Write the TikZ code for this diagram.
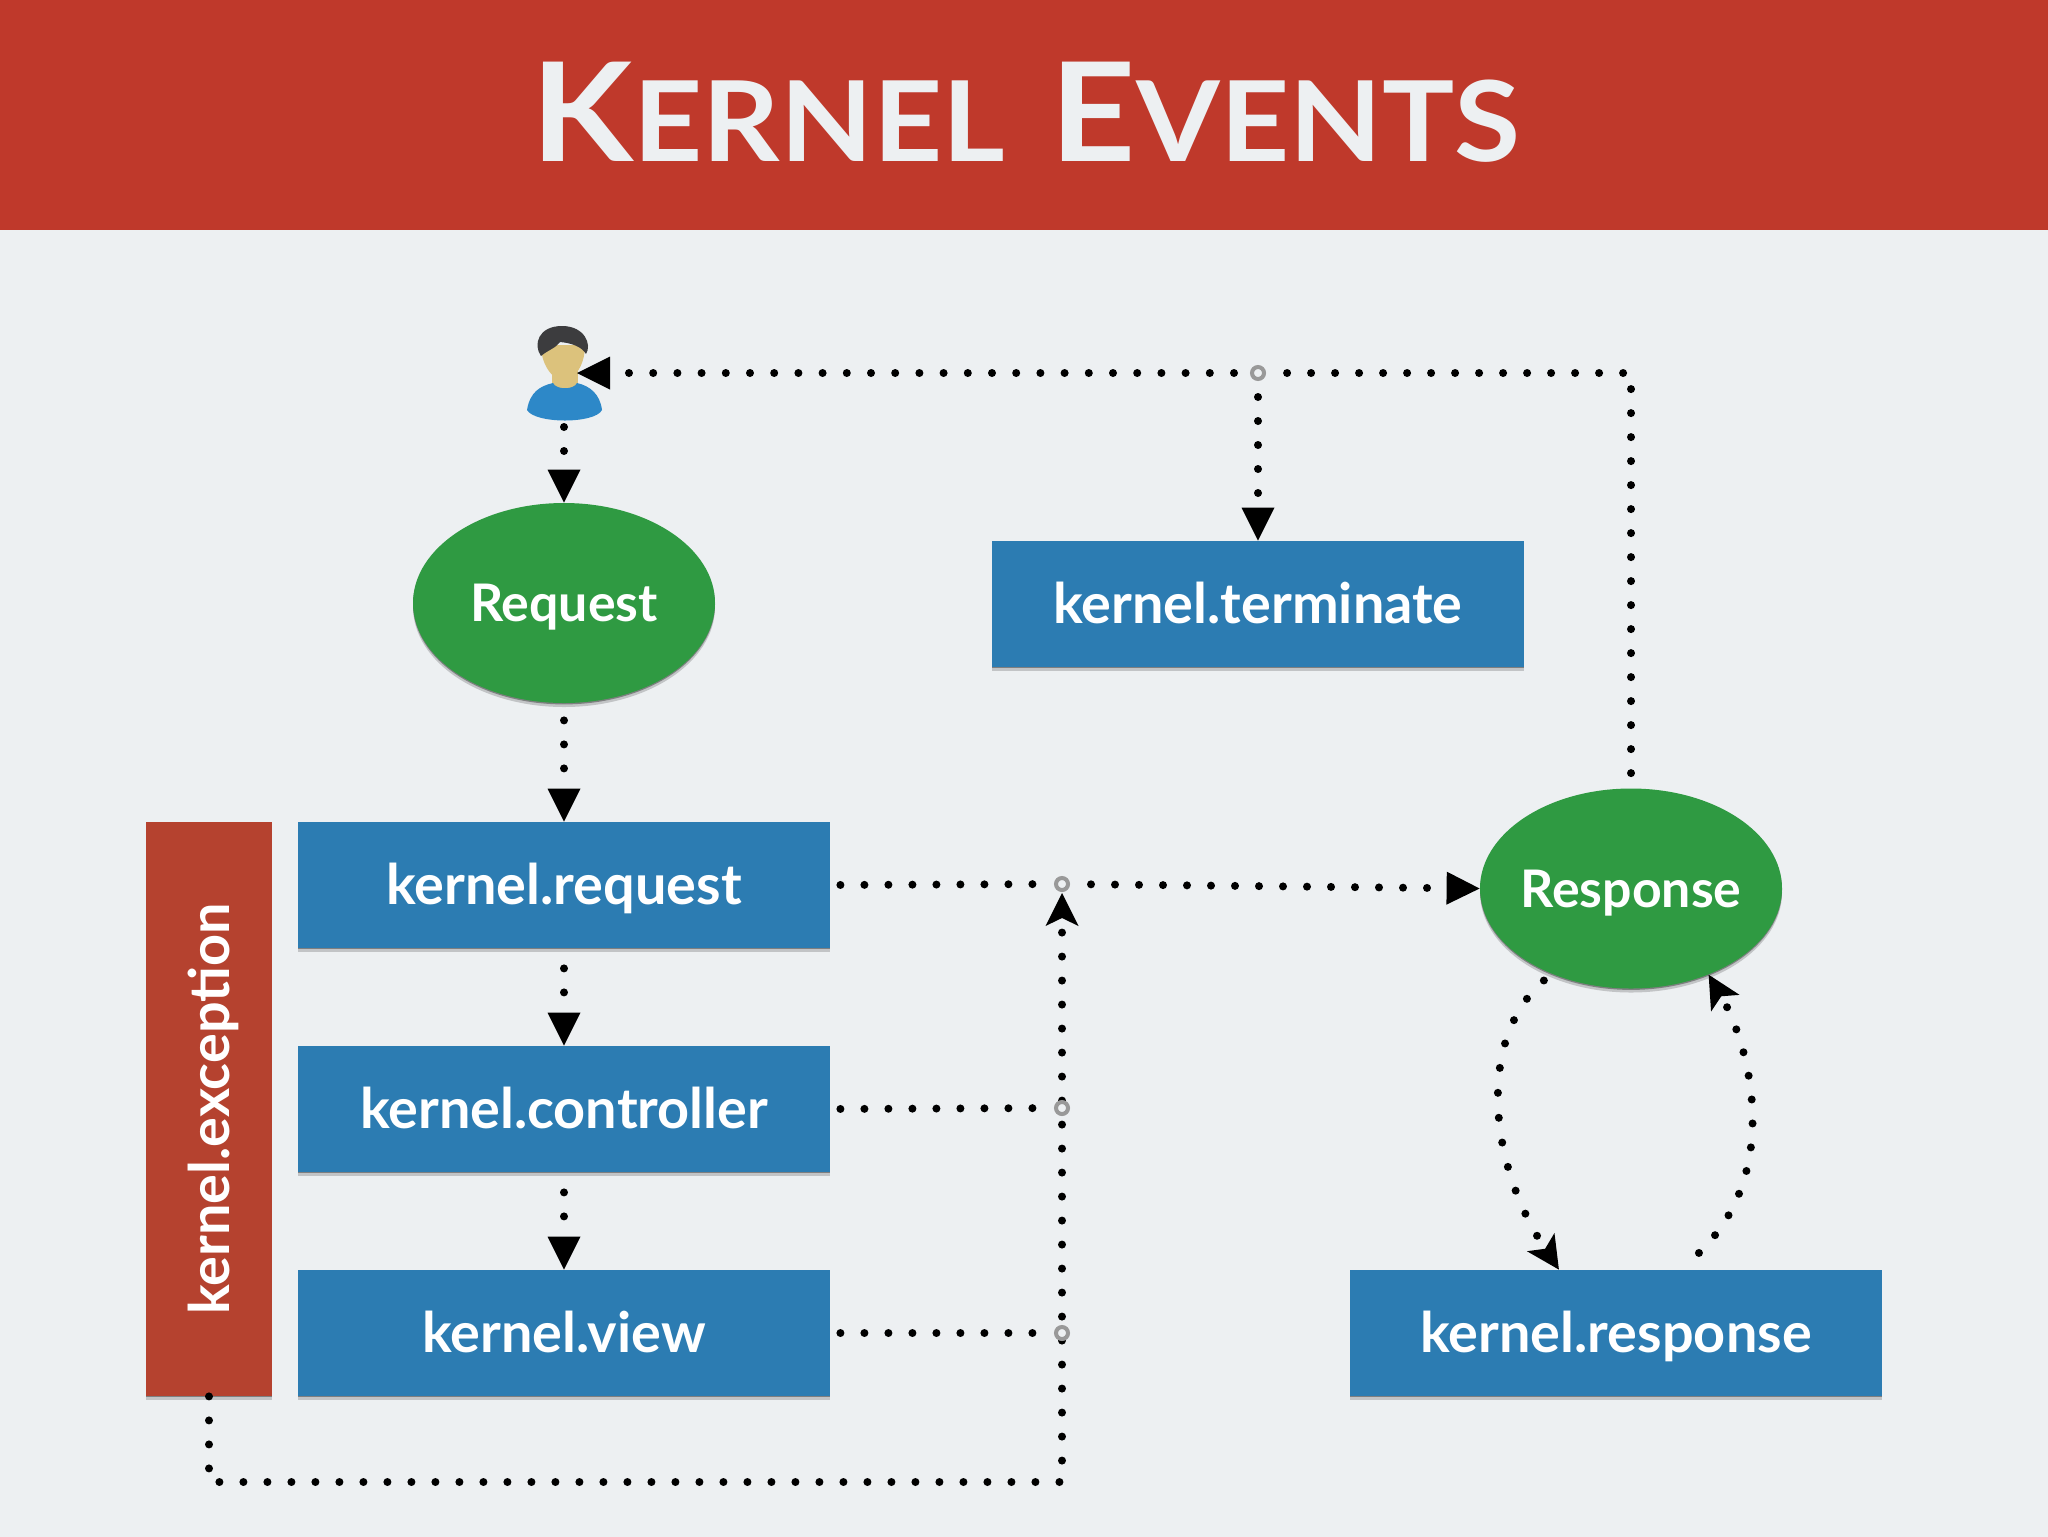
\documentclass[tikz,border=0pt]{standalone}
\usepackage{fontspec}
\setmainfont{Lato}
\newfontfamily\titlefont[FakeStretch=1.08]{Lato}
\usetikzlibrary{arrows.meta,shapes.geometric,shadows}
\pgfdeclarelayer{top}
\pgfsetlayers{main,top}
\definecolor{pageBg}{HTML}{EDF0F2}
\definecolor{headRed}{HTML}{BF392B}
\definecolor{boxBlue}{HTML}{2C7CB2}
\definecolor{ovalGreen}{HTML}{2F9A42}
\definecolor{sideRed}{HTML}{B5422F}
\definecolor{ringGray}{HTML}{999999}
\definecolor{skinTone}{HTML}{DCC27C}
\definecolor{hairGray}{HTML}{3C3C3E}
\definecolor{shirtBlue}{HTML}{2D88C8}
\tikzset{
  softShadow/.style={general shadow={shadow xshift=0bp,shadow yshift=-.7bp,opacity=.35,fill=black},general shadow={shadow xshift=0bp,shadow yshift=-2bp,opacity=.18,fill=black}},
  kernelBox/.style={rectangle,fill=boxBlue,text=white,softShadow,minimum width=266bp,minimum height=63bp,inner sep=0bp,text height=21bp,text depth=2bp,font=\fontsize{28}{30}\selectfont\bfseries},
  eventOval/.style={ellipse,fill=ovalGreen,text=white,softShadow,minimum width=151bp,minimum height=100bp,inner sep=0bp,inner xsep=-5bp,text height=20.3bp,text depth=1.7bp,font=\fontsize{26}{28}\selectfont\bfseries},
  dotEdge/.style={line width=4bp,line cap=round,dash pattern=on 0bp off 12bp},
  notched/.style={>={Stealth[length=16.5bp,width=16.5bp,inset=4bp,line width=0bp]}},
  ringNode/.style={circle,draw=ringGray,fill=pageBg,line width=2bp,minimum size=6bp,inner sep=0bp,outer sep=0bp},
}
\begin{document}
\begin{tikzpicture}[x=.5bp,y=-.5bp,>={Triangle[length=16.5bp,width=16.5bp,line width=0bp]},line join=bevel]
  \useasboundingbox (0,0) rectangle (2048,1536);
  \fill [pageBg] (-4,-4) rectangle (2052,1540);
  \fill [headRed] (-4,-4) rectangle (2052,230);
  % Node: title
  \node [text=pageBg,inner sep=0bp,font=\titlefont\fontsize{69}{80}\selectfont\bfseries] (title) at (1026,112)
    {K{\fontsize{56}{80}\selectfont ERNEL}\hspace{5bp} E{\fontsize{56}{80}\selectfont VENTS}};
  % Node: user
  \node [minimum width=13bp,minimum height=47bp,inner sep=0bp,outer sep=0bp] (user) at (564,373) {};
  \fill [skinTone] (552,370) rectangle (578,392);
  \fill [skinTone] (541,345) .. controls (541,368) and (556,381) .. (563,381) .. controls (572,381) and (585,368) .. (585,345) -- cycle;
  \fill [hairGray] (541,356) .. controls (533,345) and (538,326) .. (562,326) .. controls (585,326) and (592,345) .. (586,354) .. controls (582,347) and (572,343) .. (560,342) .. controls (556,348) and (548,350) .. (541,356) -- cycle;
  \fill [shirtBlue] (527,410) .. controls (530,392) and (540,386) .. (553,383) .. controls (556,390) and (574,390) .. (577,383) .. controls (590,386) and (600,394) .. (602,410) .. controls (595,424) and (535,424) .. (527,410) -- cycle;
  % Node: req
  \node [eventOval] (req) at (564,603) {Request};
  % Node: resp
  \node [eventOval] (resp) at (1631,888.5) {Response};
  % Node: k_terminate
  \node [kernelBox] (k_terminate) at (1258,604) {kernel.terminate};
  % Node: k_request
  \node [kernelBox] (k_request) at (564,885) {kernel.request};
  % Node: k_controller
  \node [kernelBox] (k_controller) at (564,1109) {kernel.controller};
  % Node: k_view
  \node [kernelBox] (k_view) at (564,1333) {kernel.view};
  % Node: k_response
  \node [kernelBox] (k_response) at (1616,1333) {kernel.response};
  % Node: k_exception
  \node [kernelBox,fill=sideRed,rotate=90,minimum width=287bp,text height=22bp,text depth=1.5bp] (k_exception) at (209,1109) {kernel.exception};
  \begin{pgfonlayer}{top}
  % Node: r_top
  \node [ringNode] (r_top) at (1258,373) {};
  % Node: r_request
  \node [ringNode] (r_request) at (1062,884) {};
  % Node: r_controller
  \node [ringNode] (r_controller) at (1062,1108) {};
  % Node: r_view
  \node [ringNode] (r_view) at (1062,1333) {};
  \end{pgfonlayer}
  \coordinate (c_top) at (1631,373);
  \coordinate (c_bottom_left) at (209,1482);
  \coordinate (c_bottom_right) at (1062,1482);
  % Edge: user -> req
  \draw [dotEdge,->,shorten <=3.5bp] (user.south) -- (req.north);
  % Edge: req -> k_request
  \draw [dotEdge,->,shorten <=8.5bp] (req.south) -- (k_request.north);
  % Edge: k_request -> k_controller
  \draw [dotEdge,->,shorten <=10bp] (k_request.south) -- (k_controller.north);
  % Edge: k_controller -> k_view
  \draw [dotEdge,->,shorten <=10bp] (k_controller.south) -- (k_view.north);
  % Edge: k_request -> r_request
  \draw [dotEdge,shorten <=5bp,shorten >=6bp] (k_request.east) -- (r_request);
  % Edge: k_controller -> r_controller
  \draw [dotEdge,shorten <=5bp,shorten >=6bp] (k_controller.east) -- (r_controller);
  % Edge: k_view -> r_view
  \draw [dotEdge,shorten <=5bp,shorten >=6bp] (k_view.east) -- (r_view);
  % Edge: r_request -> resp
  \draw [dotEdge,->,shorten <=11.5bp] (r_request) -- (resp.west);
  % Edge: k_exception -> r_request
  \draw [dotEdge,notched,->,shorten >=1.5bp] (k_exception.west) -- (c_bottom_left) -- (c_bottom_right) -- (r_request);
  % Edge: resp -> r_top
  \draw [dotEdge,shorten <=7.5bp,shorten >=6bp] (resp.north) -- (c_top) -- (r_top);
  % Edge: r_top -> user
  \draw [dotEdge,dash pattern=on 0bp off 12.1bp,->,shorten <=9bp] (r_top) -- (user.east);
  % Edge: r_top -> k_terminate
  \draw [dotEdge,->,shorten <=9bp] (r_top) -- (k_terminate.north);
  % Edge: resp -> k_response
  \draw [dotEdge,dash pattern=on 0bp off 12.5bp,notched,->,shorten <=5bp] (resp.227) .. controls (1476,1040) and (1489,1164) .. (k_response.132);
  % Edge: k_response -> resp
  \draw [dotEdge,notched,->,shorten <=12bp] (k_response.44) .. controls (1785,1170) and (1748,1042) .. (resp.312);
\end{tikzpicture}
\end{document}
